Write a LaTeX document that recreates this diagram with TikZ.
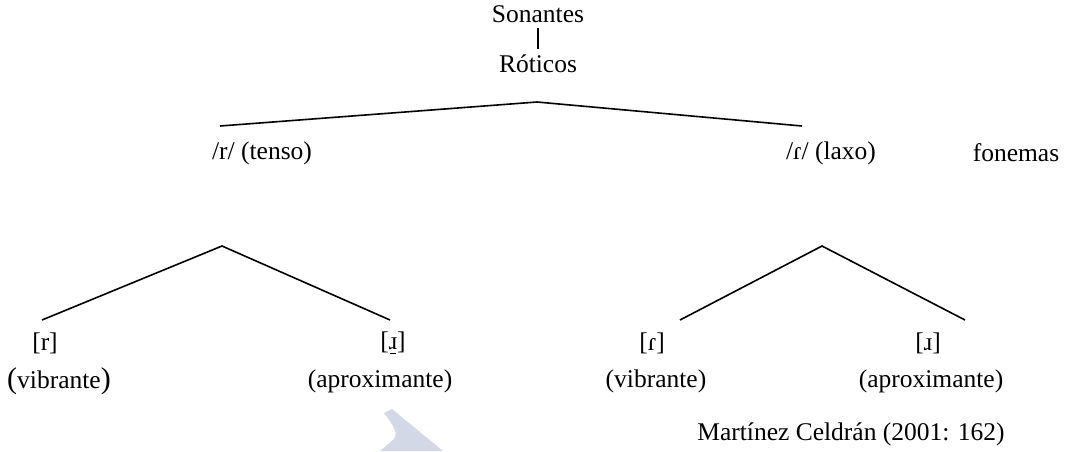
\documentclass[tikz,border=0pt]{standalone}
\usepackage{fontspec}
\setmainfont{Liberation Serif}
\usetikzlibrary{calc}
\newcommand{\retr}[1]{\leavevmode\hbox{#1\llap{\rule[-4pt]{6pt}{1.2pt}\hspace{1.5pt}}}}
\begin{document}
\begin{tikzpicture}[x=1pt,y=-1pt,
  lbl/.style={inner sep=0pt,font=\fontsize{25.5}{30}\selectfont},
  branch/.style={line width=1.6pt,black},
  wm/.style={fill={rgb,255:red,211;green,216;blue,230},draw=none}]
\useasboundingbox[fill=white] (0,0) rectangle (1069,451);
% watermark
\fill[wm] (384,413) -- (392,409) -- (443,451) -- (380,451) -- (393,440)
  .. controls (398,435) and (396,428) .. cycle;
% texts
\node[lbl] (son) at (538,14) {Sonantes};
\node[lbl] (rot) at (538,64) {Róticos};
\node[lbl] (tenso) at (262,153) {/r/ (tenso)};
\node[lbl] (laxo) at (831,153) {/ɾ/ (laxo)};
\node[lbl] (fon) at (1016,153) {fonemas};
\node[lbl] (r1) at (45,343) {[r]};
\node[lbl] (r2) at (393,343) {[\retr{ɹ}]};
\node[lbl] (r3) at (652,343) {[ɾ]};
\node[lbl] (r4) at (928,343) {[ɹ]};
\node[lbl] (v1) at (59,381) {{\fontsize{30}{32}\selectfont(}vibrante{\fontsize{30}{32}\selectfont)}};
\node[lbl] (a1) at (380,381) {(aproximante)};
\node[lbl] (v2) at (656,381) {(vibrante)};
\node[lbl] (a2) at (931,381) {(aproximante)};
\node[lbl] (cite) at (851,434) {Martínez Celdrán (2001: 162)};
% connectors
\draw[line width=1.4pt] ($(son.south)+(0,5)$) -- ($(rot.north)+(0,-6)$);
\coordinate (top) at (537,102);
\coordinate (tl) at (220,126);
\coordinate (tr) at (802,126);
\draw[branch] (tl) -- (top) -- (tr);
\coordinate (lt) at (222,246);
\coordinate (ll) at (42,320);
\coordinate (lr) at (390,320);
\draw[branch] (ll) -- (lt) -- (lr);
\coordinate (rt) at (822,246);
\coordinate (rl) at (680,320);
\coordinate (rr) at (965,320);
\draw[branch] (rl) -- (rt) -- (rr);
\end{tikzpicture}
\end{document}
